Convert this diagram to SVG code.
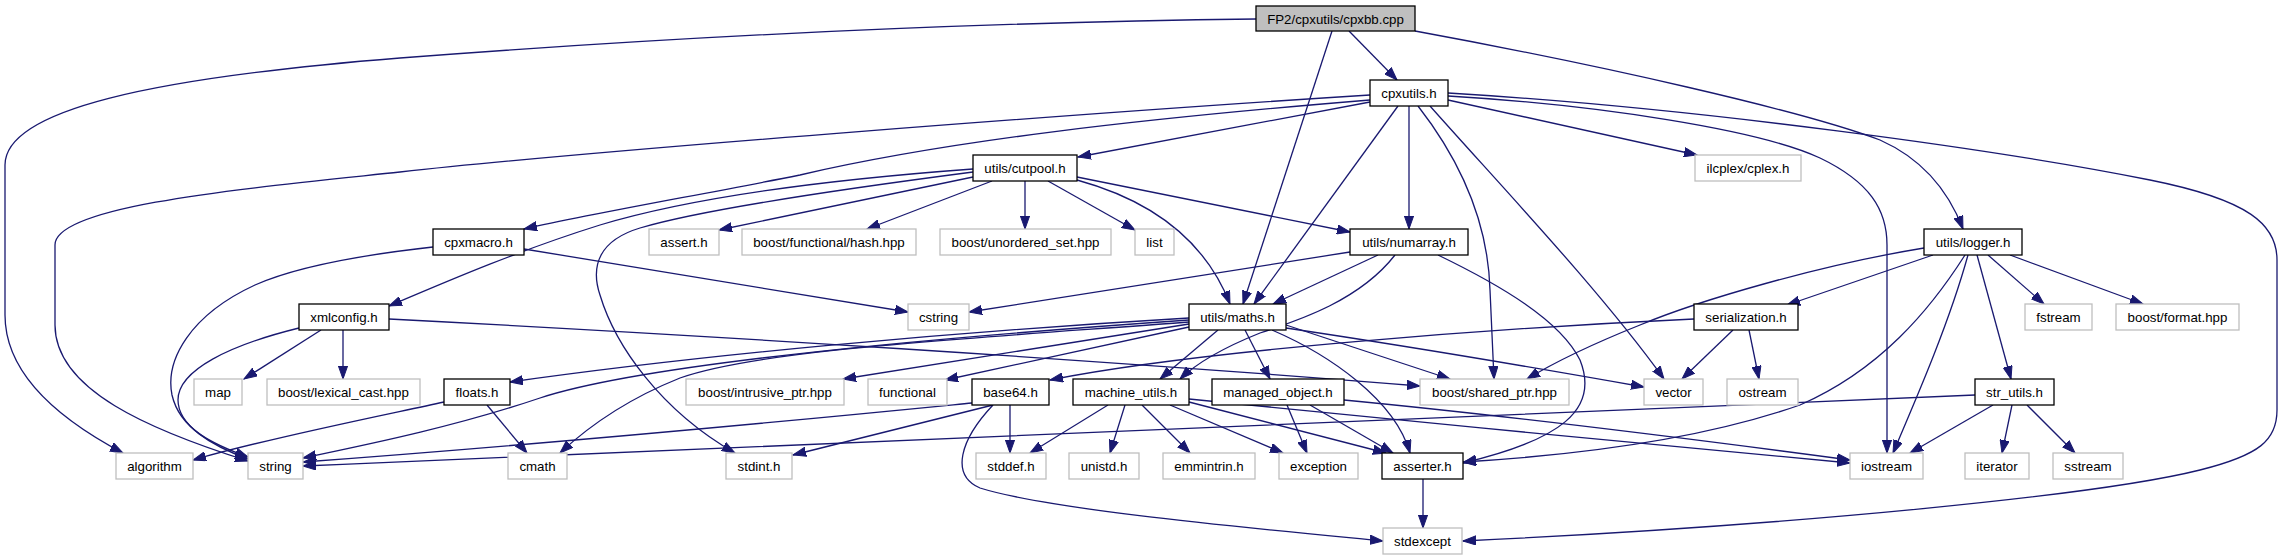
<svg xmlns="http://www.w3.org/2000/svg" width="2281" height="560" viewBox="0 0 2281 560">
<style>
.n rect{fill:#fff;stroke:#000;stroke-width:1.3}
.n.e rect{stroke:#bfbfbf}
.n.r rect{fill:#bfbfbf}
.n text{font-family:"Liberation Sans",Arial,sans-serif;font-size:13.3px;fill:#000;text-anchor:middle}
#edges path{fill:none;stroke:#191970;stroke-width:1.3;marker-end:url(#a)}
</style>
<defs>
<marker id="a" markerWidth="14" markerHeight="10" refX="13" refY="5" orient="auto" markerUnits="userSpaceOnUse">
<path d="M0,0.4 L13,5 L0,9.6 z" fill="#191970" stroke="#191970" stroke-width="1"/>
</marker>
</defs>
<rect width="2281" height="560" fill="#fff"/>
<g id="edges">
<path d="M1256,19 C1000,22 700,35 400,58 C150,78 5,110 5,165 L5,315 C5,380 70,425 123,453"/>
<path d="M1370,95 C1100,112 600,150 400,172 C250,188 55,205 55,245 L55,325 C55,390 150,430 248,461"/>
<path d="M433,247 C370,254 300,265 255,285 C190,315 165,360 172,395 C180,430 215,445 248,457"/>
<path d="M299,328 C230,345 178,370 178,400 C178,425 210,445 248,459"/>
<path d="M1189,320 C900,340 640,365 540,398 C460,425 380,442 303,458"/>
<path d="M972,403 C850,415 600,440 303,462"/>
<path d="M1975,395 C1500,418 900,440 303,466"/>
<path d="M444,402 C370,418 260,440 193,460"/>
<path d="M1349,31 L1397,80"/>
<path d="M1332,31 L1243,304"/>
<path d="M1415,31 C1600,65 1800,110 1880,140 C1925,160 1950,195 1963,229"/>
<path d="M1370,100 C1150,118 950,140 800,175 C700,195 600,212 524,229"/>
<path d="M1370,102 L1078,157"/>
<path d="M1409,106 L1409,229"/>
<path d="M1398,106 L1254,304"/>
<path d="M1418,106 C1460,160 1488,220 1490,290 L1494,379"/>
<path d="M1430,106 C1500,185 1600,290 1664,379"/>
<path d="M1448,100 L1697,155"/>
<path d="M1448,96 C1600,105 1760,130 1820,158 C1870,182 1887,210 1887,245 L1887,453"/>
<path d="M1448,93 C1700,108 2000,150 2150,180 C2250,200 2277,225 2277,260 L2277,410 C2277,440 2260,455 2200,470 C2100,495 1800,525 1463,541"/>
<path d="M973,169 C850,178 700,195 600,225 C520,250 450,280 389,306"/>
<path d="M973,172 C850,188 700,210 640,228 C600,240 590,265 600,295 C615,345 660,410 735,453"/>
<path d="M973,177 L719,230"/>
<path d="M992,181 L867,229"/>
<path d="M1025,181 L1025,229"/>
<path d="M1048,181 L1135,230"/>
<path d="M1077,177 L1350,232"/>
<path d="M1077,180 C1150,200 1205,240 1230,304"/>
<path d="M524,249 L908,312"/>
<path d="M321,330 L244,379"/>
<path d="M343,330 L343,379"/>
<path d="M389,319 C700,335 1100,360 1420,386"/>
<path d="M1350,252 L969,312"/>
<path d="M1378,255 L1273,304"/>
<path d="M1395,255 C1360,300 1300,320 1260,333 C1230,345 1200,360 1180,379"/>
<path d="M1438,255 C1500,285 1560,320 1580,360 C1600,410 1560,440 1463,463"/>
<path d="M1189,318 C950,332 700,355 510,382"/>
<path d="M1189,322 C950,340 760,350 680,378 C630,398 590,425 560,453"/>
<path d="M1189,324 L843,379"/>
<path d="M1189,327 L945,380"/>
<path d="M1694,319 C1500,328 1200,350 1050,380"/>
<path d="M1218,330 L1160,379"/>
<path d="M1245,330 L1270,379"/>
<path d="M1272,330 C1330,355 1395,400 1410,453"/>
<path d="M1286,325 L1450,379"/>
<path d="M1286,328 C1400,345 1520,365 1644,387"/>
<path d="M487,405 L527,453"/>
<path d="M993,405 L793,455"/>
<path d="M1010,405 L1010,453"/>
<path d="M993,405 C960,440 950,475 980,488 C1050,510 1250,528 1383,541"/>
<path d="M1108,405 L1030,453"/>
<path d="M1125,405 L1110,453"/>
<path d="M1142,405 L1190,453"/>
<path d="M1170,405 L1283,453"/>
<path d="M1189,402 L1386,453"/>
<path d="M1189,399 C1400,420 1650,445 1850,463"/>
<path d="M1287,405 L1307,453"/>
<path d="M1310,405 L1393,453"/>
<path d="M1344,400 C1500,415 1700,440 1850,460"/>
<path d="M1733,330 L1682,379"/>
<path d="M1749,330 L1759,379"/>
<path d="M1924,248 C1820,265 1700,300 1640,325 C1590,345 1550,365 1527,379"/>
<path d="M1933,255 L1787,305"/>
<path d="M1965,255 C1930,310 1880,370 1800,405 C1700,440 1580,455 1463,462"/>
<path d="M1968,255 C1950,320 1920,390 1893,453"/>
<path d="M1977,255 L2011,379"/>
<path d="M1988,255 L2044,304"/>
<path d="M2010,255 L2143,304"/>
<path d="M1993,405 L1910,453"/>
<path d="M2012,405 L2002,453"/>
<path d="M2027,405 L2075,453"/>
<path d="M1423,479 L1423,528"/>
</g>
<g id="root" class="n r"><rect x="1256" y="6" width="159" height="25"/><text x="1335.5" y="23.5">FP2/cpxutils/cpxbb.cpp</text></g>
<g id="cpxutils" class="n"><rect x="1370" y="80" width="78" height="26"/><text x="1409" y="97.5">cpxutils.h</text></g>
<g id="cutpool" class="n"><rect x="973" y="155" width="104" height="26"/><text x="1025" y="172.5">utils/cutpool.h</text></g>
<g id="cplex" class="n e"><rect x="1695" y="155" width="106" height="26"/><text x="1748" y="172.5">ilcplex/cplex.h</text></g>
<g id="cpxmacro" class="n"><rect x="433" y="229" width="91" height="26"/><text x="478.5" y="246.5">cpxmacro.h</text></g>
<g id="assert" class="n e"><rect x="649" y="229" width="70" height="26"/><text x="684" y="246.5">assert.h</text></g>
<g id="hash" class="n e"><rect x="742" y="229" width="174" height="26"/><text x="829" y="246.5">boost/functional/hash.hpp</text></g>
<g id="unordered_set" class="n e"><rect x="940" y="229" width="171" height="26"/><text x="1025.5" y="246.5">boost/unordered_set.hpp</text></g>
<g id="list" class="n e"><rect x="1135" y="229" width="39" height="26"/><text x="1154.5" y="246.5">list</text></g>
<g id="numarray" class="n"><rect x="1350" y="229" width="118" height="26"/><text x="1409" y="246.5">utils/numarray.h</text></g>
<g id="logger" class="n"><rect x="1924" y="229" width="98" height="26"/><text x="1973" y="246.5">utils/logger.h</text></g>
<g id="xmlconfig" class="n"><rect x="299" y="304" width="90" height="26"/><text x="344" y="321.5">xmlconfig.h</text></g>
<g id="cstring" class="n e"><rect x="908" y="304" width="61" height="26"/><text x="938.5" y="321.5">cstring</text></g>
<g id="maths" class="n"><rect x="1189" y="304" width="97" height="26"/><text x="1237.5" y="321.5">utils/maths.h</text></g>
<g id="serialization" class="n"><rect x="1694" y="304" width="104" height="26"/><text x="1746" y="321.5">serialization.h</text></g>
<g id="fstream" class="n e"><rect x="2025" y="304" width="67" height="26"/><text x="2058.5" y="321.5">fstream</text></g>
<g id="format" class="n e"><rect x="2116" y="304" width="123" height="26"/><text x="2177.5" y="321.5">boost/format.hpp</text></g>
<g id="map" class="n e"><rect x="194" y="379" width="48" height="26"/><text x="218" y="396.5">map</text></g>
<g id="lexical_cast" class="n e"><rect x="267" y="379" width="153" height="26"/><text x="343.5" y="396.5">boost/lexical_cast.hpp</text></g>
<g id="floats" class="n"><rect x="444" y="379" width="66" height="26"/><text x="477" y="396.5">floats.h</text></g>
<g id="intrusive_ptr" class="n e"><rect x="686" y="379" width="158" height="26"/><text x="765" y="396.5">boost/intrusive_ptr.hpp</text></g>
<g id="functional" class="n e"><rect x="868" y="379" width="79" height="26"/><text x="907.5" y="396.5">functional</text></g>
<g id="base64" class="n"><rect x="972" y="379" width="77" height="26"/><text x="1010.5" y="396.5">base64.h</text></g>
<g id="machine_utils" class="n"><rect x="1073" y="379" width="116" height="26"/><text x="1131" y="396.5">machine_utils.h</text></g>
<g id="managed_object" class="n"><rect x="1212" y="379" width="132" height="26"/><text x="1278" y="396.5">managed_object.h</text></g>
<g id="shared_ptr" class="n e"><rect x="1420" y="379" width="149" height="26"/><text x="1494.5" y="396.5">boost/shared_ptr.hpp</text></g>
<g id="vector" class="n e"><rect x="1644" y="379" width="59" height="26"/><text x="1673.5" y="396.5">vector</text></g>
<g id="ostream" class="n e"><rect x="1727" y="379" width="71" height="26"/><text x="1762.5" y="396.5">ostream</text></g>
<g id="str_utils" class="n"><rect x="1975" y="379" width="79" height="26"/><text x="2014.5" y="396.5">str_utils.h</text></g>
<g id="algorithm" class="n e"><rect x="116" y="453" width="77" height="26"/><text x="154.5" y="470.5">algorithm</text></g>
<g id="string" class="n e"><rect x="248" y="453" width="55" height="26"/><text x="275.5" y="470.5">string</text></g>
<g id="cmath" class="n e"><rect x="508" y="453" width="59" height="26"/><text x="537.5" y="470.5">cmath</text></g>
<g id="stdint" class="n e"><rect x="726" y="453" width="66" height="26"/><text x="759" y="470.5">stdint.h</text></g>
<g id="stddef" class="n e"><rect x="976" y="453" width="70" height="26"/><text x="1011" y="470.5">stddef.h</text></g>
<g id="unistd" class="n e"><rect x="1069" y="453" width="70" height="26"/><text x="1104" y="470.5">unistd.h</text></g>
<g id="emmintrin" class="n e"><rect x="1163" y="453" width="92" height="26"/><text x="1209" y="470.5">emmintrin.h</text></g>
<g id="exception" class="n e"><rect x="1279" y="453" width="79" height="26"/><text x="1318.5" y="470.5">exception</text></g>
<g id="asserter" class="n"><rect x="1382" y="453" width="81" height="26"/><text x="1422.5" y="470.5">asserter.h</text></g>
<g id="iostream" class="n e"><rect x="1850" y="453" width="73" height="26"/><text x="1886.5" y="470.5">iostream</text></g>
<g id="iterator" class="n e"><rect x="1965" y="453" width="64" height="26"/><text x="1997" y="470.5">iterator</text></g>
<g id="sstream" class="n e"><rect x="2053" y="453" width="70" height="26"/><text x="2088" y="470.5">sstream</text></g>
<g id="stdexcept" class="n e"><rect x="1383" y="528" width="79" height="26"/><text x="1422.5" y="545.5">stdexcept</text></g>
</svg>
